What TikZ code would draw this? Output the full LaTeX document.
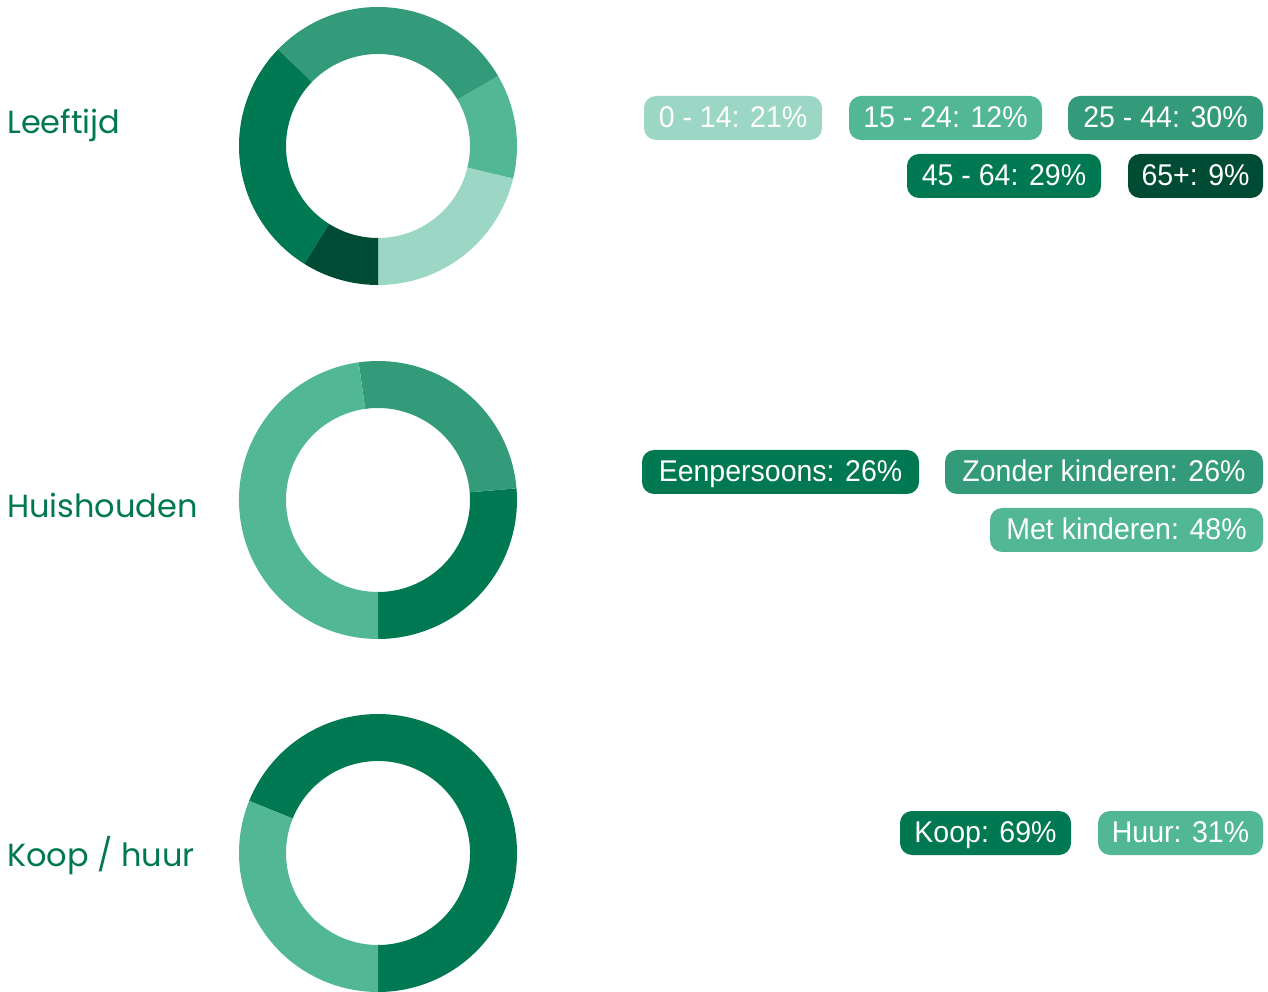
\documentclass[tikz,border=0pt]{standalone}
\usepackage{fontspec}
\setmainfont{Liberation Sans}
\newfontfamily\titlefont{Poppins}
\newfontfamily\lgdfont[FakeStretch=0.95]{Liberation Sans}
\usetikzlibrary{calc}
\definecolor{cA}{HTML}{9BD7C4}
\definecolor{cB}{HTML}{52B795}
\definecolor{cC}{HTML}{339B7A}
\definecolor{cD}{HTML}{007852}
\definecolor{cE}{HTML}{004B33}
\newcommand\dseg[4]{%
  \fill[#4] ($(#1)+(#2:139pt)$) arc[start angle=#2,end angle=#3,radius=139pt]
    -- ($(#1)+(#3:92pt)$) arc[start angle=#3,end angle=#2,radius=92pt] -- cycle;}
\begin{document}
\begin{tikzpicture}[x=1pt,y=1pt,
  lgd/.style={rounded corners=12pt, minimum height=44pt, inner sep=0pt, text=white,
    font=\lgdfont\fontsize{30}{30}\selectfont, text height=21.5pt, text depth=2.5pt},
  ttl/.style={anchor=base west, text=cD, font=\titlefont\fontsize{32}{32}\selectfont, inner sep=0pt}]
\useasboundingbox (0,0) rectangle (1268,991);
% centres
\coordinate (d1) at (378,845);
\coordinate (d2) at (378,491);
\coordinate (d3) at (378,138);
% titles
\node[ttl] (t1) at (7,857) {Leeftijd};
\node[ttl] (t2) at (7,473) {Huishouden};
\node[ttl] (t3) at (7,125) {Koop / huur};
% donut 1
\dseg{d1}{-90}{-13.5}{cA}
\dseg{d1}{-13.5}{30.3}{cB}
\dseg{d1}{30.3}{136}{cC}
\dseg{d1}{136}{238}{cD}
\dseg{d1}{238}{270}{cE}
% donut 2
\dseg{d2}{-90}{4.8}{cD}
\dseg{d2}{4.8}{98}{cC}
\dseg{d2}{98}{270}{cB}
% donut 3
\dseg{d3}{-90}{158}{cD}
\dseg{d3}{158}{270}{cB}
% legends donut 1
\node[lgd, fill=cA, minimum width=178pt] (l1) at (733,873) {0 - 14: 21\%};
\node[lgd, fill=cB, minimum width=193pt] (l2) at (945.5,873) {15 - 24: 12\%};
\node[lgd, fill=cC, minimum width=195pt] (l3) at (1165.5,873) {25 - 44: 30\%};
\node[lgd, fill=cD, minimum width=194pt] (l4) at (1004,815) {45 - 64: 29\%};
\node[lgd, fill=cE, minimum width=135pt] (l5) at (1195.5,815) {65+: 9\%};
% legends donut 2
\node[lgd, fill=cD, minimum width=277pt] (h1) at (780.5,519) {Eenpersoons: 26\%};
\node[lgd, fill=cC, minimum width=318pt] (h2) at (1104,519) {Zonder kinderen: 26\%};
\node[lgd, fill=cB, minimum width=273pt] (h3) at (1126.5,461) {Met kinderen: 48\%};
% legends donut 3
\node[lgd, fill=cD, minimum width=171pt] (k1) at (985.5,158) {Koop: 69\%};
\node[lgd, fill=cB, minimum width=165pt] (k2) at (1180.5,158) {Huur: 31\%};
\end{tikzpicture}
\end{document}
